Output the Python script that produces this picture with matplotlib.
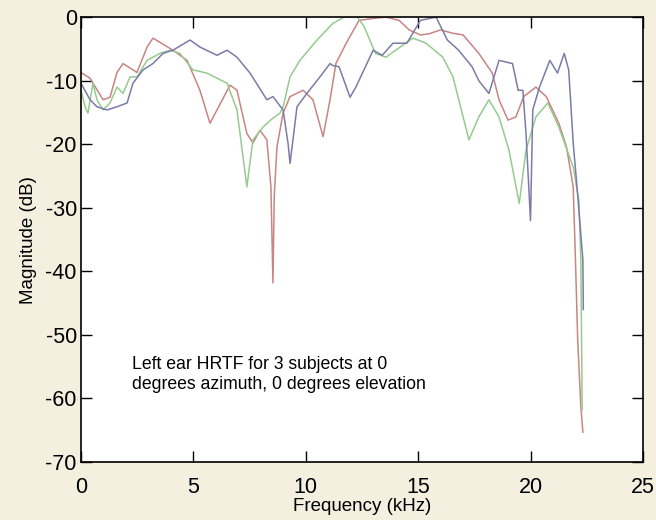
# Left ear HRTF magnitude for 3 subjects
import matplotlib.pyplot as plt

BG = "#f5efe0"

# subject 1 (red)
f_red = [0, 0.4, 0.98, 1.29, 1.6, 1.87, 2.49, 2.94, 3.2, 4.09, 4.72, 5.29, 5.74, 6.05,
         6.63, 6.94, 7.38, 7.65, 7.96, 8.27, 8.45, 8.54, 8.6, 8.72, 8.99, 9.3, 9.88,
         10.32, 10.77, 11.08, 11.34, 11.8, 12.37, 13.0, 13.57, 14.15, 14.6, 15.1, 15.5,
         16.0, 16.5, 17.0, 17.7, 18.3, 18.6, 19.0, 19.35, 19.7, 20.24, 20.7, 21.26,
         21.6, 21.9, 22.0, 22.1, 22.24, 22.33]
db_red = [-8.7, -9.6, -13, -12.6, -8.7, -7.3, -8.7, -4.7, -3.3, -5.2, -6.8, -11.5, -16.7,
          -14.6, -10.7, -11.5, -18.3, -19.8, -17.8, -19.3, -26.7, -41.8, -28, -20.4,
          -15.1, -12.5, -11.5, -13, -18.8, -13, -7.3, -4.1, -0.5, -0.2, 0, -0.5, -2,
          -2.8, -2.6, -2, -2.5, -2.8, -5.7, -8.8, -13, -16.2, -15.7, -12.5, -11, -12.5,
          -16.7, -20.4, -26.7, -38.2, -50.8, -61.3, -65.3]

# subject 2 (green)
f_green = [0, 0.18, 0.31, 0.53, 0.71, 0.98, 1.29, 1.6, 1.87, 2.18, 2.49, 2.94, 3.51,
           3.96, 4.4, 4.98, 5.6, 6.5, 6.94, 7.38, 7.65, 8.1, 8.5, 8.85, 9.0, 9.3, 9.74,
           10.5, 11.2, 11.7, 12.3, 12.6, 13.1, 13.57, 14.0, 14.77, 15.35, 16.1, 16.55,
           17.26, 17.7, 18.15, 18.6, 19.04, 19.5, 19.8, 20.24, 20.77, 21.26, 21.9,
           22.15, 22.24, 22.3]
db_green = [-11.5, -14.1, -15.1, -10.4, -13, -14.6, -13.5, -11, -12, -9.4, -9.4, -6.8,
            -5.7, -5.2, -5.7, -8.3, -8.8, -10.4, -14.6, -26.7, -19.3, -17.3, -16, -15.1,
            -14, -9.4, -6.8, -3.6, -1, 0, 0, -1.5, -5.7, -6.3, -5.2, -3.3, -4.1, -6.3,
            -9.4, -19.3, -15.7, -13, -15.7, -20.9, -29.3, -20.9, -15.7, -13.5, -17.3,
            -23.6, -28.8, -38.2, -61.8]

# subject 3 (blue)
f_blue = [0, 0.4, 0.71, 1.16, 1.6, 2.05, 2.31, 2.76, 3.2, 3.65, 4.09, 4.85, 5.29, 6.05,
          6.5, 6.94, 7.52, 8.27, 8.54, 8.99, 9.21, 9.3, 9.43, 9.61, 10.05, 10.63, 11.08,
          11.2, 11.48, 11.97, 12.23, 13.0, 13.4, 13.88, 14.5, 15.1, 15.8, 16.3, 16.8,
          17.4, 17.7, 18.15, 18.6, 19.2, 19.45, 19.66, 19.8, 20.0, 20.1, 20.4, 20.86,
          21.2, 21.5, 21.7, 21.9, 22.1, 22.33, 22.35]
db_blue = [-10.4, -13, -14.1, -14.6, -14.1, -13.5, -10.4, -8.3, -7.3, -5.7, -5.2, -3.6,
           -4.7, -6, -5.2, -6.3, -8.8, -13, -12.5, -14.6, -19.8, -23, -19.3, -14.1, -12,
           -9.4, -7.3, -7.6, -7.8, -12.6, -11, -5.2, -6, -4.1, -4.1, -0.5, 0, -3.6, -5.2,
           -7.8, -10, -12, -6.8, -7.3, -11.5, -11.5, -18.3, -32, -14.6, -11, -6.8, -8.8,
           -5.7, -8.3, -19.8, -28, -38.2, -46]

xticks = [0, 5, 10, 15, 20, 25]
yticks = [0, -10, -20, -30, -40, -50, -60, -70]

plt.rcParams["font.family"] = ["Liberation Sans", "DejaVu Sans"]
plt.rcParams["axes.unicode_minus"] = False

fig = plt.figure(figsize=(6.56, 5.2), dpi=100, facecolor=BG)
ax = fig.add_axes([0.1235, 0.1115, 0.8565, 0.8555])
ax.set_facecolor("white")

ax.plot(f_red, db_red, color="#c98484", lw=1.1)
ax.plot(f_green, db_green, color="#95cc8e", lw=1.1)
ax.plot(f_blue, db_blue, color="#7b7ba8", lw=1.1)

ax.set_xlim(0, 25)
ax.set_ylim(-70, 0)
ax.set_xticks(xticks)
ax.set_yticks(yticks)
ax.tick_params(direction="in", length=8, width=1, top=True, right=True, labelsize=15.5)
ax.tick_params(axis="x", pad=11)
ax.tick_params(axis="y", pad=3)
for s in ax.spines.values():
    s.set_linewidth(1.2)
ax.set_xlabel("Frequency (kHz)", fontsize=13.5, labelpad=0)
ax.set_ylabel("Magnitude (dB)", fontsize=13.5, labelpad=6)

ax.text(2.27, -56.2, "Left ear HRTF for 3 subjects at 0\ndegrees azimuth, 0 degrees elevation",
        fontsize=12.7, linespacing=1.2, va="center", ha="left")

fig.savefig("out.png", dpi=100, facecolor=BG)
